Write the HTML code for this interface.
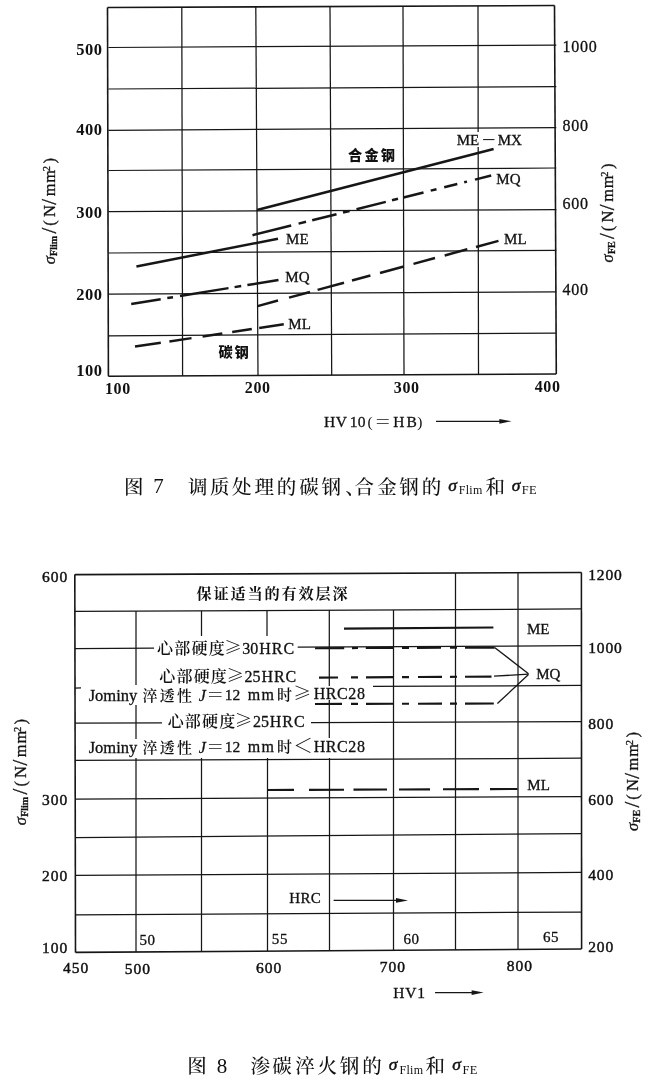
<!DOCTYPE html>
<html><head><meta charset="utf-8"><title>图7 图8</title>
<style>
html,body{margin:0;padding:0;background:#fff;}
body{width:650px;height:1080px;overflow:hidden;}
svg{display:block;}
text{fill:#111;}
.s3{stroke:#111;stroke-width:0.3px;}
.s4{stroke:#111;stroke-width:0.45px;}
</style></head><body>
<svg width="650" height="1080" viewBox="0 0 650 1080">
<rect width="650" height="1080" fill="#fff"/>
<line x1="107.50" y1="7.50" x2="554.50" y2="5.50" stroke="#161616" stroke-width="1.6"/>
<line x1="108.40" y1="47.50" x2="556.30" y2="45.10" stroke="#161616" stroke-width="1.25"/>
<line x1="108.40" y1="89.00" x2="556.30" y2="86.70" stroke="#161616" stroke-width="1.25"/>
<line x1="108.40" y1="130.30" x2="556.30" y2="127.60" stroke="#161616" stroke-width="1.25"/>
<line x1="108.40" y1="170.50" x2="556.30" y2="168.00" stroke="#161616" stroke-width="1.25"/>
<line x1="108.40" y1="211.60" x2="556.30" y2="209.60" stroke="#161616" stroke-width="1.25"/>
<line x1="108.40" y1="253.00" x2="556.30" y2="250.30" stroke="#161616" stroke-width="1.25"/>
<line x1="108.40" y1="294.00" x2="556.30" y2="291.80" stroke="#161616" stroke-width="1.25"/>
<line x1="108.40" y1="335.80" x2="556.30" y2="333.00" stroke="#161616" stroke-width="1.25"/>
<line x1="108.40" y1="376.20" x2="556.30" y2="374.00" stroke="#161616" stroke-width="1.6"/>
<line x1="107.50" y1="7.50" x2="108.40" y2="376.20" stroke="#161616" stroke-width="1.6"/>
<line x1="181.80" y1="7.17" x2="182.60" y2="375.83" stroke="#161616" stroke-width="1.25"/>
<line x1="255.80" y1="6.84" x2="258.00" y2="375.46" stroke="#161616" stroke-width="1.25"/>
<line x1="330.00" y1="6.51" x2="331.70" y2="375.10" stroke="#161616" stroke-width="1.25"/>
<line x1="403.00" y1="6.18" x2="404.00" y2="374.74" stroke="#161616" stroke-width="1.25"/>
<line x1="478.00" y1="5.85" x2="478.17" y2="132.00" stroke="#161616" stroke-width="1.25"/>
<line x1="478.19" y1="147.00" x2="478.50" y2="374.38" stroke="#161616" stroke-width="1.25"/>
<line x1="554.50" y1="5.50" x2="556.30" y2="374.00" stroke="#161616" stroke-width="1.6"/>
<line x1="257.00" y1="210.00" x2="493.60" y2="149.00" stroke="#161616" stroke-width="2.5"/>
<line x1="252.50" y1="235.18" x2="291.20" y2="225.51" stroke="#161616" stroke-width="2.5"/>
<line x1="298.60" y1="223.66" x2="306.00" y2="221.81" stroke="#161616" stroke-width="2.5"/>
<line x1="312.20" y1="220.26" x2="336.50" y2="214.19" stroke="#161616" stroke-width="2.5"/>
<line x1="343.00" y1="212.57" x2="349.60" y2="210.92" stroke="#161616" stroke-width="2.5"/>
<line x1="356.50" y1="209.20" x2="385.80" y2="201.88" stroke="#161616" stroke-width="2.5"/>
<line x1="392.00" y1="200.33" x2="398.00" y2="198.83" stroke="#161616" stroke-width="2.5"/>
<line x1="403.50" y1="197.46" x2="423.50" y2="192.46" stroke="#161616" stroke-width="2.5"/>
<line x1="430.70" y1="190.66" x2="436.50" y2="189.21" stroke="#161616" stroke-width="2.5"/>
<line x1="444.20" y1="187.29" x2="457.30" y2="184.02" stroke="#161616" stroke-width="2.5"/>
<line x1="464.20" y1="182.29" x2="467.00" y2="181.59" stroke="#161616" stroke-width="2.5"/>
<line x1="475.00" y1="179.60" x2="491.20" y2="175.55" stroke="#161616" stroke-width="2.5"/>
<line x1="257.60" y1="306.11" x2="278.00" y2="300.58" stroke="#161616" stroke-width="2.5"/>
<line x1="289.00" y1="297.60" x2="310.00" y2="291.92" stroke="#161616" stroke-width="2.5"/>
<line x1="317.60" y1="289.86" x2="344.00" y2="282.71" stroke="#161616" stroke-width="2.5"/>
<line x1="352.00" y1="280.54" x2="370.40" y2="275.56" stroke="#161616" stroke-width="2.5"/>
<line x1="380.00" y1="272.96" x2="403.80" y2="266.51" stroke="#161616" stroke-width="2.5"/>
<line x1="413.50" y1="263.89" x2="435.00" y2="258.06" stroke="#161616" stroke-width="2.5"/>
<line x1="444.70" y1="255.44" x2="467.30" y2="249.31" stroke="#161616" stroke-width="2.5"/>
<line x1="476.00" y1="246.96" x2="498.50" y2="240.86" stroke="#161616" stroke-width="2.5"/>
<line x1="136.40" y1="266.40" x2="278.00" y2="238.80" stroke="#161616" stroke-width="2.5"/>
<line x1="131.20" y1="303.97" x2="160.70" y2="299.16" stroke="#161616" stroke-width="2.5"/>
<line x1="167.30" y1="298.09" x2="173.00" y2="297.16" stroke="#161616" stroke-width="2.5"/>
<line x1="180.00" y1="296.02" x2="228.50" y2="288.12" stroke="#161616" stroke-width="2.5"/>
<line x1="234.60" y1="287.13" x2="241.20" y2="286.06" stroke="#161616" stroke-width="2.5"/>
<line x1="247.40" y1="285.05" x2="278.50" y2="279.98" stroke="#161616" stroke-width="2.5"/>
<line x1="135.00" y1="346.60" x2="160.80" y2="342.73" stroke="#161616" stroke-width="2.5"/>
<line x1="169.40" y1="341.44" x2="191.50" y2="338.12" stroke="#161616" stroke-width="2.5"/>
<line x1="202.60" y1="336.46" x2="222.30" y2="333.50" stroke="#161616" stroke-width="2.5"/>
<line x1="232.20" y1="332.02" x2="251.80" y2="329.08" stroke="#161616" stroke-width="2.5"/>
<line x1="259.20" y1="327.97" x2="283.80" y2="324.28" stroke="#161616" stroke-width="2.5"/>
<text x="102.6" y="55.3" font-family='"Liberation Serif","Noto Serif CJK SC",serif' font-size="16.5" font-weight="bold" text-anchor="end" letter-spacing="0.5" >500</text>
<text x="102.6" y="134.6" font-family='"Liberation Serif","Noto Serif CJK SC",serif' font-size="16.5" font-weight="bold" text-anchor="end" letter-spacing="0.5" >400</text>
<text x="102.6" y="217.9" font-family='"Liberation Serif","Noto Serif CJK SC",serif' font-size="16.5" font-weight="bold" text-anchor="end" letter-spacing="0.5" >300</text>
<text x="102.6" y="300.4" font-family='"Liberation Serif","Noto Serif CJK SC",serif' font-size="16.5" font-weight="bold" text-anchor="end" letter-spacing="0.5" >200</text>
<text x="102.6" y="375.7" font-family='"Liberation Serif","Noto Serif CJK SC",serif' font-size="16.5" font-weight="bold" text-anchor="end" letter-spacing="0.5" >100</text>
<text x="105.0" y="394" font-family='"Liberation Serif","Noto Serif CJK SC",serif' font-size="16" font-weight="bold" text-anchor="start" letter-spacing="0.6" >100</text>
<text x="244.79999999999998" y="393" font-family='"Liberation Serif","Noto Serif CJK SC",serif' font-size="16" font-weight="bold" text-anchor="start" letter-spacing="0.6" >200</text>
<text x="393.8" y="392.9" font-family='"Liberation Serif","Noto Serif CJK SC",serif' font-size="16" font-weight="bold" text-anchor="start" letter-spacing="0.6" >300</text>
<text x="534.7" y="391.5" font-family='"Liberation Serif","Noto Serif CJK SC",serif' font-size="16" font-weight="bold" text-anchor="start" letter-spacing="0.6" >400</text>
<text x="562.4" y="51.9" font-family='"Liberation Serif","Noto Serif CJK SC",serif' font-size="16" font-weight="normal" text-anchor="start" letter-spacing="0.8" class="s3">1000</text>
<text x="562.4" y="131.3" font-family='"Liberation Serif","Noto Serif CJK SC",serif' font-size="16" font-weight="normal" text-anchor="start" letter-spacing="0.8" class="s3">800</text>
<text x="562.4" y="208.8" font-family='"Liberation Serif","Noto Serif CJK SC",serif' font-size="16" font-weight="normal" text-anchor="start" letter-spacing="0.8" class="s3">600</text>
<text x="562.4" y="294.9" font-family='"Liberation Serif","Noto Serif CJK SC",serif' font-size="16" font-weight="normal" text-anchor="start" letter-spacing="0.8" class="s3">400</text>
<text><tspan x="456.70" y="145" font-family='"Liberation Serif"' font-size="15" font-weight="normal" font-style="normal" class="s3">ME</tspan><tspan x="483.22" y="145" font-family='"Liberation Serif"' font-size="22" font-weight="normal" font-style="normal">–</tspan><tspan x="497.70" y="145" font-family='"Liberation Serif"' font-size="15" font-weight="normal" font-style="normal" class="s3">MX</tspan></text>
<text x="496.3" y="183.6" font-family='"Liberation Serif","Noto Serif CJK SC",serif' font-size="15" font-weight="normal" text-anchor="start" class="s3">MQ</text>
<text x="504.1" y="243.6" font-family='"Liberation Serif","Noto Serif CJK SC",serif' font-size="15" font-weight="normal" text-anchor="start" class="s3">ML</text>
<text x="286.1" y="243.6" font-family='"Liberation Serif","Noto Serif CJK SC",serif' font-size="15" font-weight="normal" text-anchor="start" class="s3">ME</text>
<text x="285.3" y="282.4" font-family='"Liberation Serif","Noto Serif CJK SC",serif' font-size="15" font-weight="normal" text-anchor="start" class="s3">MQ</text>
<text x="288.3" y="328.6" font-family='"Liberation Serif","Noto Serif CJK SC",serif' font-size="15" font-weight="normal" text-anchor="start" class="s3">ML</text>
<text x="348.1" y="160.2" font-family='"Noto Sans CJK SC","Liberation Sans",sans-serif' font-size="14.2" font-weight="900" text-anchor="start" letter-spacing="2.2" >合金钢</text>
<text x="218.6" y="356.8" font-family='"Noto Sans CJK SC","Liberation Sans",sans-serif' font-size="14.2" font-weight="900" text-anchor="start" letter-spacing="1.6" >碳钢</text>
<text><tspan x="323.89" y="427" font-family='"Liberation Serif"' font-size="15.5" font-weight="normal" font-style="normal" letter-spacing="0.6" class="s3">HV</tspan><tspan x="349.76" y="427" font-family='"Liberation Serif"' font-size="15.5" font-weight="normal" font-style="normal" letter-spacing="0.3" class="s3">10</tspan><tspan x="367.38" y="427" font-family='"Liberation Serif"' font-size="15.5" font-weight="normal" font-style="normal">(</tspan><tspan x="374.25" y="427.5" font-family='"Noto Serif CJK SC"' font-size="17" font-weight="normal" font-style="normal">＝</tspan><tspan x="393.19" y="427" font-family='"Liberation Serif"' font-size="15.5" font-weight="normal" font-style="normal" class="s3">H</tspan><tspan x="406.39" y="427" font-family='"Liberation Serif"' font-size="15.5" font-weight="normal" font-style="normal" class="s3">B</tspan><tspan x="417.24" y="427" font-family='"Liberation Serif"' font-size="15.5" font-weight="normal" font-style="normal">)</tspan></text>
<line x1="436.00" y1="421.30" x2="501.40" y2="421.30" stroke="#161616" stroke-width="1.2"/>
<path d="M499.4 418.90000000000003 L511.4 421.3 L499.4 423.7 Z" fill="#161616"/>
<text class="s3" transform="translate(55,264.3) rotate(-90)" font-family='"Liberation Serif","Noto Serif CJK SC",serif' font-size="16.5"><tspan x="0" y="0" font-style="italic">σ</tspan><tspan x="8.4" y="2" font-size="10" font-weight="bold">Flim</tspan><tspan x="30.80" y="1" font-size="21">/</tspan><tspan x="38.60" y="0">(</tspan><tspan x="47.30" y="0">N</tspan><tspan x="59.60" y="1" font-size="21">/</tspan><tspan x="68.00" y="0" letter-spacing="0.8">mm</tspan><tspan x="93.10" y="-5" font-size="10.5">2</tspan><tspan x="100.80" y="0">)</tspan></text>
<text class="s3" transform="translate(613.3,262.5) rotate(-90)" font-family='"Liberation Serif","Noto Serif CJK SC",serif' font-size="16.5"><tspan x="0" y="0" font-style="italic">σ</tspan><tspan x="8.4" y="2" font-size="10" font-weight="bold">FE</tspan><tspan x="23.50" y="1" font-size="21">/</tspan><tspan x="31.30" y="0">(</tspan><tspan x="40.00" y="0">N</tspan><tspan x="52.30" y="1" font-size="21">/</tspan><tspan x="60.70" y="0" letter-spacing="0.8">mm</tspan><tspan x="85.80" y="-5" font-size="10.5">2</tspan><tspan x="93.50" y="0">)</tspan></text>
<text><tspan x="124.05" y="494" font-family='"Noto Serif CJK SC"' font-size="19.5" font-weight="500" font-style="normal">图</tspan><tspan x="153.34" y="493.4" font-family='"Liberation Serif"' font-size="21" font-weight="normal" font-style="normal">7</tspan><tspan x="187.91" y="494" font-family='"Noto Serif CJK SC"' font-size="19.5" font-weight="500" font-style="normal">调</tspan><tspan x="209.91" y="494" font-family='"Noto Serif CJK SC"' font-size="19.5" font-weight="500" font-style="normal">质</tspan><tspan x="232.11" y="494" font-family='"Noto Serif CJK SC"' font-size="19.5" font-weight="500" font-style="normal">处</tspan><tspan x="254.61" y="494" font-family='"Noto Serif CJK SC"' font-size="19.5" font-weight="500" font-style="normal">理</tspan><tspan x="276.74" y="494" font-family='"Noto Serif CJK SC"' font-size="19.5" font-weight="500" font-style="normal">的</tspan><tspan x="299.31" y="494" font-family='"Noto Serif CJK SC"' font-size="19.5" font-weight="500" font-style="normal">碳</tspan><tspan x="321.41" y="494" font-family='"Noto Serif CJK SC"' font-size="19.5" font-weight="500" font-style="normal">钢</tspan><tspan x="345.22" y="494" font-family='"Noto Serif CJK SC"' font-size="19.5" font-weight="500" font-style="normal">、</tspan><tspan x="354.42" y="494" font-family='"Noto Serif CJK SC"' font-size="19.5" font-weight="500" font-style="normal">合</tspan><tspan x="377.31" y="494" font-family='"Noto Serif CJK SC"' font-size="19.5" font-weight="500" font-style="normal">金</tspan><tspan x="399.21" y="494" font-family='"Noto Serif CJK SC"' font-size="19.5" font-weight="500" font-style="normal">钢</tspan><tspan x="421.74" y="494" font-family='"Noto Serif CJK SC"' font-size="19.5" font-weight="500" font-style="normal">的</tspan><tspan x="448.35" y="490.5" font-family='"Liberation Serif"' font-size="17.5" font-weight="normal" font-style="italic" class="s4">σ</tspan><tspan x="458.86" y="494.3" font-family='"Liberation Serif"' font-size="12" font-weight="normal" font-style="normal" letter-spacing="0.25">Flim</tspan><tspan x="485.42" y="493.5" font-family='"Noto Serif CJK SC"' font-size="19.5" font-weight="500" font-style="normal">和</tspan><tspan x="511.65" y="490.5" font-family='"Liberation Serif"' font-size="17.5" font-weight="normal" font-style="italic" class="s4">σ</tspan><tspan x="521.75" y="494.3" font-family='"Liberation Serif"' font-size="12.5" font-weight="normal" font-style="normal" letter-spacing="0.3">FE</tspan></text>
<line x1="74.80" y1="574.60" x2="581.50" y2="572.50" stroke="#161616" stroke-width="1.6"/>
<line x1="75.00" y1="611.40" x2="581.50" y2="608.90" stroke="#161616" stroke-width="1.25"/>
<line x1="75.00" y1="648.50" x2="154.00" y2="648.05" stroke="#161616" stroke-width="1.25"/>
<line x1="297.70" y1="647.23" x2="581.50" y2="645.60" stroke="#161616" stroke-width="1.25"/>
<line x1="75.00" y1="688.00" x2="81.00" y2="687.97" stroke="#161616" stroke-width="1.25"/>
<line x1="373.00" y1="686.47" x2="581.50" y2="685.40" stroke="#161616" stroke-width="1.25"/>
<line x1="75.00" y1="723.20" x2="162.00" y2="722.94" stroke="#161616" stroke-width="1.25"/>
<line x1="311.00" y1="722.50" x2="581.50" y2="721.70" stroke="#161616" stroke-width="1.25"/>
<line x1="75.20" y1="760.40" x2="581.50" y2="758.20" stroke="#161616" stroke-width="1.25"/>
<line x1="75.20" y1="799.00" x2="581.50" y2="796.50" stroke="#161616" stroke-width="1.25"/>
<line x1="75.20" y1="837.50" x2="581.50" y2="833.50" stroke="#161616" stroke-width="1.25"/>
<line x1="75.20" y1="875.40" x2="581.50" y2="872.40" stroke="#161616" stroke-width="1.25"/>
<line x1="75.20" y1="914.80" x2="581.50" y2="912.00" stroke="#161616" stroke-width="1.25"/>
<line x1="75.50" y1="952.40" x2="581.50" y2="949.00" stroke="#161616" stroke-width="1.6"/>
<line x1="74.80" y1="574.60" x2="75.50" y2="952.40" stroke="#161616" stroke-width="1.6"/>
<line x1="136.00" y1="611.00" x2="136.00" y2="685.00" stroke="#161616" stroke-width="1.25"/>
<line x1="136.00" y1="705.00" x2="136.00" y2="739.00" stroke="#161616" stroke-width="1.25"/>
<line x1="136.00" y1="758.00" x2="136.00" y2="952.00" stroke="#161616" stroke-width="1.25"/>
<line x1="201.50" y1="611.00" x2="201.50" y2="636.00" stroke="#161616" stroke-width="1.25"/>
<line x1="201.50" y1="758.00" x2="201.50" y2="951.50" stroke="#161616" stroke-width="1.25"/>
<line x1="267.00" y1="611.00" x2="267.00" y2="636.00" stroke="#161616" stroke-width="1.25"/>
<line x1="267.50" y1="758.00" x2="267.50" y2="951.00" stroke="#161616" stroke-width="1.25"/>
<line x1="329.30" y1="610.00" x2="329.30" y2="686.00" stroke="#161616" stroke-width="1.25"/>
<line x1="329.30" y1="700.00" x2="329.30" y2="738.00" stroke="#161616" stroke-width="1.25"/>
<line x1="329.50" y1="758.00" x2="329.50" y2="950.50" stroke="#161616" stroke-width="1.25"/>
<line x1="393.50" y1="610.00" x2="393.50" y2="950.00" stroke="#161616" stroke-width="1.25"/>
<line x1="455.50" y1="573.00" x2="455.50" y2="950.00" stroke="#161616" stroke-width="1.25"/>
<line x1="518.00" y1="573.00" x2="518.00" y2="949.00" stroke="#161616" stroke-width="1.25"/>
<line x1="581.40" y1="572.50" x2="581.60" y2="949.00" stroke="#161616" stroke-width="1.6"/>
<line x1="344.00" y1="628.60" x2="493.40" y2="627.50" stroke="#161616" stroke-width="2.1"/>
<line x1="315.00" y1="648.20" x2="344.20" y2="648.10" stroke="#161616" stroke-width="2.1"/>
<line x1="352.00" y1="648.08" x2="358.00" y2="648.06" stroke="#161616" stroke-width="2.1"/>
<line x1="365.80" y1="648.03" x2="393.50" y2="647.94" stroke="#161616" stroke-width="2.1"/>
<line x1="402.00" y1="647.91" x2="409.00" y2="647.89" stroke="#161616" stroke-width="2.1"/>
<line x1="417.00" y1="647.86" x2="441.00" y2="647.78" stroke="#161616" stroke-width="2.1"/>
<line x1="450.00" y1="647.75" x2="457.00" y2="647.73" stroke="#161616" stroke-width="2.1"/>
<line x1="465.00" y1="647.70" x2="494.60" y2="647.60" stroke="#161616" stroke-width="2.1"/>
<line x1="494.60" y1="647.40" x2="528.50" y2="673.80" stroke="#161616" stroke-width="1.3"/>
<line x1="319.00" y1="677.60" x2="338.00" y2="677.49" stroke="#161616" stroke-width="2.1"/>
<line x1="351.00" y1="677.41" x2="358.00" y2="677.37" stroke="#161616" stroke-width="2.1"/>
<line x1="366.00" y1="677.33" x2="394.00" y2="677.17" stroke="#161616" stroke-width="2.1"/>
<line x1="402.00" y1="677.12" x2="409.00" y2="677.08" stroke="#161616" stroke-width="2.1"/>
<line x1="418.00" y1="677.03" x2="442.00" y2="676.89" stroke="#161616" stroke-width="2.1"/>
<line x1="450.00" y1="676.84" x2="457.00" y2="676.80" stroke="#161616" stroke-width="2.1"/>
<line x1="465.00" y1="676.75" x2="491.50" y2="676.60" stroke="#161616" stroke-width="2.1"/>
<line x1="494.00" y1="676.20" x2="528.50" y2="674.20" stroke="#161616" stroke-width="1.3"/>
<line x1="315.00" y1="704.00" x2="342.00" y2="703.92" stroke="#161616" stroke-width="2.1"/>
<line x1="351.00" y1="703.90" x2="358.00" y2="703.88" stroke="#161616" stroke-width="2.1"/>
<line x1="366.00" y1="703.86" x2="394.00" y2="703.78" stroke="#161616" stroke-width="2.1"/>
<line x1="402.00" y1="703.76" x2="409.00" y2="703.74" stroke="#161616" stroke-width="2.1"/>
<line x1="418.00" y1="703.71" x2="442.00" y2="703.64" stroke="#161616" stroke-width="2.1"/>
<line x1="450.00" y1="703.62" x2="457.00" y2="703.60" stroke="#161616" stroke-width="2.1"/>
<line x1="465.00" y1="703.58" x2="493.80" y2="703.50" stroke="#161616" stroke-width="2.1"/>
<line x1="497.40" y1="703.50" x2="528.50" y2="674.60" stroke="#161616" stroke-width="1.3"/>
<line x1="267.60" y1="790.00" x2="294.00" y2="789.89" stroke="#161616" stroke-width="2.1"/>
<line x1="309.00" y1="789.83" x2="344.00" y2="789.69" stroke="#161616" stroke-width="2.1"/>
<line x1="353.50" y1="789.66" x2="387.00" y2="789.52" stroke="#161616" stroke-width="2.1"/>
<line x1="399.00" y1="789.47" x2="430.00" y2="789.35" stroke="#161616" stroke-width="2.1"/>
<line x1="443.00" y1="789.30" x2="479.00" y2="789.15" stroke="#161616" stroke-width="2.1"/>
<line x1="490.00" y1="789.11" x2="517.60" y2="789.00" stroke="#161616" stroke-width="2.1"/>
<text x="196.5" y="598.8" font-family='"Noto Serif CJK SC","Liberation Serif",serif' font-size="15.2" font-weight="bold" text-anchor="start" letter-spacing="1.8" >保证适当的有效层深</text>
<text><tspan x="157.08" y="653.5" font-family='"Noto Serif CJK SC"' font-size="16" font-weight="600" font-style="normal" letter-spacing="1.2">心部硬度</tspan><tspan x="224.20" y="653.5" font-family='"Noto Serif CJK SC"' font-size="17.5" font-weight="normal" font-style="normal">≥</tspan><tspan x="242.36" y="653.5" font-family='"Liberation Serif"' font-size="16" font-weight="normal" font-style="normal" class="s3">30</tspan><tspan x="259.18" y="653.5" font-family='"Liberation Serif"' font-size="16" font-weight="normal" font-style="normal" letter-spacing="1" class="s3">HRC</tspan></text>
<text><tspan x="159.28" y="682.4" font-family='"Noto Serif CJK SC"' font-size="16" font-weight="600" font-style="normal" letter-spacing="1.2">心部硬度</tspan><tspan x="226.40" y="682.4" font-family='"Noto Serif CJK SC"' font-size="17.5" font-weight="normal" font-style="normal">≥</tspan><tspan x="244.56" y="682.4" font-family='"Liberation Serif"' font-size="16" font-weight="normal" font-style="normal" class="s3">25</tspan><tspan x="261.38" y="682.4" font-family='"Liberation Serif"' font-size="16" font-weight="normal" font-style="normal" letter-spacing="1" class="s3">HRC</tspan></text>
<text><tspan x="167.68" y="726.8" font-family='"Noto Serif CJK SC"' font-size="16" font-weight="600" font-style="normal" letter-spacing="1.2">心部硬度</tspan><tspan x="234.80" y="726.8" font-family='"Noto Serif CJK SC"' font-size="17.5" font-weight="normal" font-style="normal">≥</tspan><tspan x="252.96" y="726.8" font-family='"Liberation Serif"' font-size="16" font-weight="normal" font-style="normal" class="s3">25</tspan><tspan x="269.78" y="726.8" font-family='"Liberation Serif"' font-size="16" font-weight="normal" font-style="normal" letter-spacing="1" class="s3">HRC</tspan></text>
<text><tspan x="88.67" y="700.5" font-family='"Liberation Serif"' font-size="16.5" font-weight="normal" font-style="normal" class="s3">Jominy</tspan><tspan x="142.55" y="700.5" font-family='"Noto Serif CJK SC"' font-size="15" font-weight="600" font-style="normal" letter-spacing="2.2">淬透性</tspan><tspan x="198.84" y="700.5" font-family='"Liberation Serif"' font-size="16" font-weight="normal" font-style="italic" class="s3">J</tspan><tspan x="206.30" y="700.5" font-family='"Noto Serif CJK SC"' font-size="18" font-weight="normal" font-style="normal">＝</tspan><tspan x="224.76" y="700.0" font-family='"Liberation Serif"' font-size="15.5" font-weight="normal" font-style="normal" class="s3">12</tspan><tspan x="247.68" y="700.0" font-family='"Liberation Serif"' font-size="16" font-weight="normal" font-style="normal" letter-spacing="1.5" class="s3">mm</tspan><tspan x="276.95" y="699.7" font-family='"Noto Serif CJK SC"' font-size="15" font-weight="600" font-style="normal">时</tspan><tspan x="293.24" y="699.5" font-family='"Noto Serif CJK SC"' font-size="18" font-weight="normal" font-style="normal">≥</tspan><tspan x="313.68" y="699.0" font-family='"Liberation Serif"' font-size="16" font-weight="normal" font-style="normal" letter-spacing="0.6" class="s3">HRC28</tspan></text>
<text><tspan x="88.67" y="752.8" font-family='"Liberation Serif"' font-size="16.5" font-weight="normal" font-style="normal" class="s3">Jominy</tspan><tspan x="142.55" y="752.8" font-family='"Noto Serif CJK SC"' font-size="15" font-weight="600" font-style="normal" letter-spacing="2.2">淬透性</tspan><tspan x="198.84" y="752.8" font-family='"Liberation Serif"' font-size="16" font-weight="normal" font-style="italic" class="s3">J</tspan><tspan x="206.30" y="752.8" font-family='"Noto Serif CJK SC"' font-size="18" font-weight="normal" font-style="normal">＝</tspan><tspan x="224.76" y="752.3" font-family='"Liberation Serif"' font-size="15.5" font-weight="normal" font-style="normal" class="s3">12</tspan><tspan x="247.68" y="752.3" font-family='"Liberation Serif"' font-size="16" font-weight="normal" font-style="normal" letter-spacing="1.5" class="s3">mm</tspan><tspan x="276.95" y="752.0" font-family='"Noto Serif CJK SC"' font-size="15" font-weight="600" font-style="normal">时</tspan><tspan x="293.00" y="753.0999999999999" font-family='"Noto Serif CJK SC"' font-size="20" font-weight="normal" font-style="normal">＜</tspan><tspan x="313.68" y="752.1999999999999" font-family='"Liberation Serif"' font-size="16" font-weight="normal" font-style="normal" letter-spacing="0.6" class="s3">HRC28</tspan></text>
<text x="527" y="633.5" font-family='"Liberation Serif","Noto Serif CJK SC",serif' font-size="15" font-weight="normal" text-anchor="start" class="s3">ME</text>
<text x="536.2" y="678.5" font-family='"Liberation Serif","Noto Serif CJK SC",serif' font-size="15" font-weight="normal" text-anchor="start" class="s3">MQ</text>
<text x="527.3" y="790" font-family='"Liberation Serif","Noto Serif CJK SC",serif' font-size="15" font-weight="normal" text-anchor="start" class="s3">ML</text>
<text x="289.2" y="903" font-family='"Liberation Serif","Noto Serif CJK SC",serif' font-size="15" font-weight="normal" text-anchor="start" letter-spacing="0.4" class="s3">HRC</text>
<line x1="333.60" y1="900.40" x2="398.00" y2="900.40" stroke="#161616" stroke-width="1.2"/>
<path d="M396 898.0 L408 900.4 L396 902.8 Z" fill="#161616"/>
<text x="139.4" y="945" font-family='"Liberation Serif","Noto Serif CJK SC",serif' font-size="15" font-weight="normal" text-anchor="start" letter-spacing="0.6" class="s3">50</text>
<text x="271.79999999999995" y="944" font-family='"Liberation Serif","Noto Serif CJK SC",serif' font-size="15" font-weight="normal" text-anchor="start" letter-spacing="0.6" class="s3">55</text>
<text x="403.4" y="943.6" font-family='"Liberation Serif","Noto Serif CJK SC",serif' font-size="15" font-weight="normal" text-anchor="start" letter-spacing="0.6" class="s3">60</text>
<text x="543.0" y="942.4" font-family='"Liberation Serif","Noto Serif CJK SC",serif' font-size="15" font-weight="normal" text-anchor="start" letter-spacing="0.6" class="s3">65</text>
<text x="62.900000000000006" y="973.4" font-family='"Liberation Serif","Noto Serif CJK SC",serif' font-size="15.5" font-weight="normal" text-anchor="start" letter-spacing="1.0" class="s4">450</text>
<text x="124.8" y="973.6" font-family='"Liberation Serif","Noto Serif CJK SC",serif' font-size="15.5" font-weight="normal" text-anchor="start" letter-spacing="1.0" class="s4">500</text>
<text x="256.09999999999997" y="972.6" font-family='"Liberation Serif","Noto Serif CJK SC",serif' font-size="15.5" font-weight="normal" text-anchor="start" letter-spacing="1.0" class="s4">600</text>
<text x="379.7" y="972.4" font-family='"Liberation Serif","Noto Serif CJK SC",serif' font-size="15.5" font-weight="normal" text-anchor="start" letter-spacing="1.0" class="s4">700</text>
<text x="506.8" y="970.6" font-family='"Liberation Serif","Noto Serif CJK SC",serif' font-size="15.5" font-weight="normal" text-anchor="start" letter-spacing="1.0" class="s4">800</text>
<text x="393.2" y="998" font-family='"Liberation Serif","Noto Serif CJK SC",serif' font-size="15.5" font-weight="normal" text-anchor="start" letter-spacing="0.8" class="s3">HV1</text>
<line x1="435.00" y1="992.60" x2="473.60" y2="992.60" stroke="#161616" stroke-width="1.2"/>
<path d="M471.6 990.2 L483.6 992.6 L471.6 995.0 Z" fill="#161616"/>
<text x="68.2" y="581.9" font-family='"Liberation Serif","Noto Serif CJK SC",serif' font-size="15.5" font-weight="normal" text-anchor="end" letter-spacing="1.0" class="s4">600</text>
<text x="68.2" y="805.2" font-family='"Liberation Serif","Noto Serif CJK SC",serif' font-size="15.5" font-weight="normal" text-anchor="end" letter-spacing="1.0" class="s4">300</text>
<text x="68.2" y="881" font-family='"Liberation Serif","Noto Serif CJK SC",serif' font-size="15.5" font-weight="normal" text-anchor="end" letter-spacing="1.0" class="s4">200</text>
<text x="68.2" y="953.3" font-family='"Liberation Serif","Noto Serif CJK SC",serif' font-size="15.5" font-weight="normal" text-anchor="end" letter-spacing="1.0" class="s4">100</text>
<text x="588.3" y="579.6" font-family='"Liberation Serif","Noto Serif CJK SC",serif' font-size="15.5" font-weight="normal" text-anchor="start" letter-spacing="0.8" class="s4">1200</text>
<text x="588.3" y="652.9" font-family='"Liberation Serif","Noto Serif CJK SC",serif' font-size="15.5" font-weight="normal" text-anchor="start" letter-spacing="0.8" class="s4">1000</text>
<text x="588.3" y="729" font-family='"Liberation Serif","Noto Serif CJK SC",serif' font-size="15.5" font-weight="normal" text-anchor="start" letter-spacing="0.8" class="s4">800</text>
<text x="588.3" y="805" font-family='"Liberation Serif","Noto Serif CJK SC",serif' font-size="15.5" font-weight="normal" text-anchor="start" letter-spacing="0.8" class="s4">600</text>
<text x="588.3" y="880" font-family='"Liberation Serif","Noto Serif CJK SC",serif' font-size="15.5" font-weight="normal" text-anchor="start" letter-spacing="0.8" class="s4">400</text>
<text x="588.3" y="952" font-family='"Liberation Serif","Noto Serif CJK SC",serif' font-size="15.5" font-weight="normal" text-anchor="start" letter-spacing="0.8" class="s4">200</text>
<text class="s3" transform="translate(25.8,825.2) rotate(-90)" font-family='"Liberation Serif","Noto Serif CJK SC",serif' font-size="16.5"><tspan x="0" y="0" font-style="italic">σ</tspan><tspan x="8.4" y="2" font-size="10" font-weight="bold">Flim</tspan><tspan x="30.80" y="1" font-size="21">/</tspan><tspan x="38.60" y="0">(</tspan><tspan x="47.30" y="0">N</tspan><tspan x="59.60" y="1" font-size="21">/</tspan><tspan x="68.00" y="0" letter-spacing="0.8">mm</tspan><tspan x="93.10" y="-5" font-size="10.5">2</tspan><tspan x="100.80" y="0">)</tspan></text>
<text class="s3" transform="translate(638.3,831.1) rotate(-90)" font-family='"Liberation Serif","Noto Serif CJK SC",serif' font-size="16.5"><tspan x="0" y="0" font-style="italic">σ</tspan><tspan x="8.4" y="2" font-size="10" font-weight="bold">FE</tspan><tspan x="23.50" y="1" font-size="21">/</tspan><tspan x="31.30" y="0">(</tspan><tspan x="40.00" y="0">N</tspan><tspan x="52.30" y="1" font-size="21">/</tspan><tspan x="60.70" y="0" letter-spacing="0.8">mm</tspan><tspan x="85.80" y="-5" font-size="10.5">2</tspan><tspan x="93.50" y="0">)</tspan></text>
<text><tspan x="187.25" y="1073.2" font-family='"Noto Serif CJK SC"' font-size="19.5" font-weight="500" font-style="normal">图</tspan><tspan x="216.67" y="1072.6000000000001" font-family='"Liberation Serif"' font-size="21" font-weight="normal" font-style="normal">8</tspan><tspan x="250.41" y="1073.2" font-family='"Noto Serif CJK SC"' font-size="19.5" font-weight="500" font-style="normal">渗</tspan><tspan x="272.31" y="1073.2" font-family='"Noto Serif CJK SC"' font-size="19.5" font-weight="500" font-style="normal">碳</tspan><tspan x="295.22" y="1073.2" font-family='"Noto Serif CJK SC"' font-size="19.5" font-weight="500" font-style="normal">淬</tspan><tspan x="317.42" y="1073.2" font-family='"Noto Serif CJK SC"' font-size="19.5" font-weight="500" font-style="normal">火</tspan><tspan x="339.81" y="1073.2" font-family='"Noto Serif CJK SC"' font-size="19.5" font-weight="500" font-style="normal">钢</tspan><tspan x="362.24" y="1073.2" font-family='"Noto Serif CJK SC"' font-size="19.5" font-weight="500" font-style="normal">的</tspan><tspan x="388.85" y="1070.4" font-family='"Liberation Serif"' font-size="17.5" font-weight="normal" font-style="italic" class="s4">σ</tspan><tspan x="399.56" y="1074.4" font-family='"Liberation Serif"' font-size="12" font-weight="normal" font-style="normal" letter-spacing="0.25">Flim</tspan><tspan x="425.42" y="1072.7" font-family='"Noto Serif CJK SC"' font-size="19.5" font-weight="500" font-style="normal">和</tspan><tspan x="452.15" y="1070.4" font-family='"Liberation Serif"' font-size="17.5" font-weight="normal" font-style="italic" class="s4">σ</tspan><tspan x="462.55" y="1074.4" font-family='"Liberation Serif"' font-size="12.5" font-weight="normal" font-style="normal" letter-spacing="0.3">FE</tspan></text>
</svg>
</body></html>
